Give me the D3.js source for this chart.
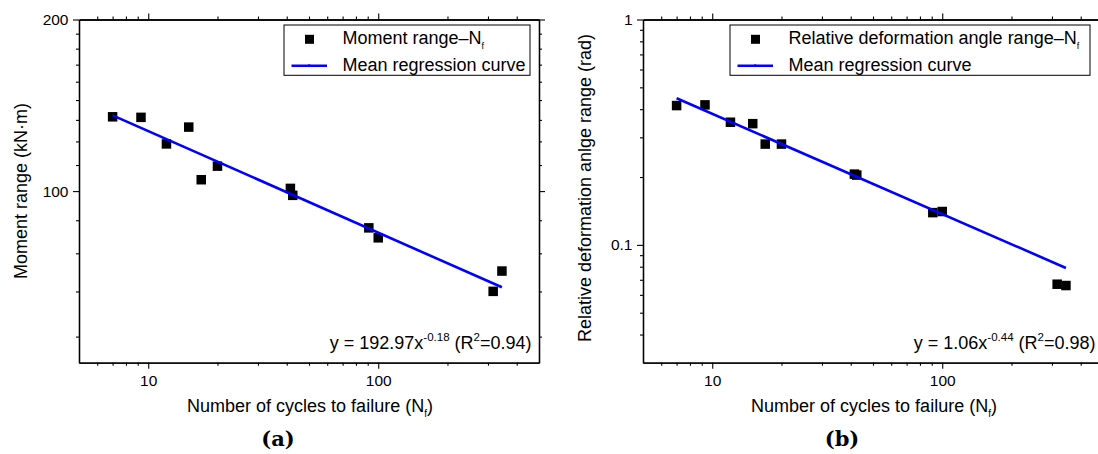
<!DOCTYPE html>
<html>
<head>
<meta charset="utf-8">
<script src="https://cdn.jsdelivr.net/npm/d3@7"></script>
<style>
  body { margin: 0; background: #fff; }
  text { font-family: Arial, "Liberation Sans", sans-serif; fill: #000; }
</style>
</head>
<body>
<svg id="chart" width="1098" height="454"></svg>
<script>
// data
const cycles = [7, 9.3, 12, 15, 17, 20, 41.5, 42.5, 91, 100, 316, 345];
const momentRange = [135, 134.7, 121, 129.5, 104.7, 110.6, 101.1, 98.3, 86.2, 82.8, 66.7, 72.4];
const angleRange = [0.415, 0.418, 0.350, 0.345, 0.280, 0.280, 0.206, 0.204, 0.139, 0.1406, 0.0669, 0.0660];

// mean regression curve end points
const fitCycles = [7, 345];
const momentFit = [135.8, 67.8];
const angleFit = [0.447, 0.079];

// axes
const xDomain = [5, 500];
const xMajor = [10, 100];
const xMinor = [6, 7, 8, 9, 20, 30, 40, 50, 60, 70, 80, 90, 200, 300, 400];
const momentDomain = [50, 200];
const momentMajor = [100, 200];
const momentMinor = [55.56, 66.67, 77.78, 88.89, 111.11, 122.22, 133.33, 144.44, 155.56, 166.67, 177.78, 188.89];
const angleDomain = [0.03, 1];
const angleMajor = [0.1, 1];
const angleMinor = [0.04, 0.05, 0.06, 0.07, 0.08, 0.09, 0.2, 0.3, 0.4, 0.5, 0.6, 0.7, 0.8, 0.9];

const svg = d3.select("#chart");
const plotW = 460, plotTop = 19.5, plotBottom = 362.7;

function styleAxis(sel) {
    sel.select(".domain").attr("stroke", "#000").attr("stroke-width", 1.3);
    sel.selectAll(".tick line").attr("stroke", "#000").attr("stroke-width", 1.1);
    sel.selectAll("text").style("font-size", "15.5px").attr("font-family", null);
}

function drawPanel(cfg) {
    const g = svg.append("g");
    const left = cfg.left, right = cfg.left + plotW;

    const x = d3.scaleLog().domain(xDomain).range([left, right]);
    const y = d3.scaleLog().domain(cfg.yDomain).range([plotBottom, plotTop]);

    // bottom axis
    g.append("g").attr("transform", `translate(0,${plotBottom})`)
        .call(d3.axisBottom(x).tickValues(xMinor).tickSize(3).tickSizeOuter(0).tickFormat(""))
        .call(styleAxis);
    g.append("g").attr("transform", `translate(0,${plotBottom})`)
        .call(d3.axisBottom(x).tickValues(xMajor).tickSize(6).tickPadding(6.5).tickSizeOuter(0).tickFormat(d3.format("d")))
        .call(styleAxis);
    // top mirror
    g.append("g").attr("transform", `translate(0,${plotTop})`)
        .call(d3.axisTop(x).tickValues(xMinor).tickSize(3).tickSizeOuter(0).tickFormat(""))
        .call(styleAxis);
    g.append("g").attr("transform", `translate(0,${plotTop})`)
        .call(d3.axisTop(x).tickValues(xMajor).tickSize(6).tickSizeOuter(0).tickFormat(""))
        .call(styleAxis);
    // left axis
    g.append("g").attr("transform", `translate(${left},0)`)
        .call(d3.axisLeft(y).tickValues(cfg.yMinor).tickSize(3).tickSizeOuter(0).tickFormat(""))
        .call(styleAxis);
    g.append("g").attr("transform", `translate(${left},0)`)
        .call(d3.axisLeft(y).tickValues(cfg.yMajor).tickSize(6).tickPadding(4.5).tickSizeOuter(0).tickFormat(d => String(d)))
        .call(styleAxis);
    // right mirror
    g.append("g").attr("transform", `translate(${right},0)`)
        .call(d3.axisRight(y).tickValues(cfg.yMinor).tickSize(3).tickSizeOuter(0).tickFormat(""))
        .call(styleAxis);
    g.append("g").attr("transform", `translate(${right},0)`)
        .call(d3.axisRight(y).tickValues(cfg.yMajor).tickSize(6).tickSizeOuter(0).tickFormat(""))
        .call(styleAxis);

    // points
    const sq = 9.5;
    g.selectAll(".pt")
        .data(cycles.map((c, i) => ({ c: c, v: cfg.values[i] })))
        .enter()
        .append("rect")
        .attr("class", "pt")
        .attr("x", d => x(d.c) - sq / 2)
        .attr("y", d => y(d.v) - sq / 2)
        .attr("width", sq)
        .attr("height", sq)
        .attr("fill", "#000");

    // regression line
    const line = d3.line().x(d => x(d[0])).y(d => y(d[1]));
    g.append("path")
        .datum(fitCycles.map((c, i) => [c, cfg.fit[i]]))
        .attr("d", line)
        .attr("fill", "none")
        .attr("stroke", "#0000ff")
        .attr("stroke-width", 2.6);

    // equation
    const eq = g.append("text")
        .attr("x", right - 7.5)
        .attr("y", 348.5)
        .attr("text-anchor", "end")
        .style("font-size", "18px");
    eq.append("tspan").text(cfg.eq[0]);
    eq.append("tspan").attr("dy", -7.5).style("font-size", "11.5px").text(cfg.eq[1]);
    eq.append("tspan").attr("dy", 7.5).text(" (R");
    eq.append("tspan").attr("dy", -7.5).style("font-size", "11.5px").text("2");
    eq.append("tspan").attr("dy", 7.5).text(cfg.eq[2]);

    // legend
    const lx = cfg.legendX;
    g.append("rect")
        .attr("x", lx).attr("y", 25)
        .attr("width", cfg.legendW).attr("height", 50.3)
        .attr("fill", "#fff").attr("stroke", "#000").attr("stroke-width", 1);
    g.append("rect")
        .attr("x", lx + 25.5 - 4.5).attr("y", 39.3 - 4.5)
        .attr("width", 9).attr("height", 9).attr("fill", "#000");
    g.append("line")
        .attr("x1", lx + 7.5).attr("x2", lx + 43)
        .attr("y1", 65.7).attr("y2", 65.7)
        .attr("stroke", "#0000ff").attr("stroke-width", 2.6);
    g.append("circle")
        .attr("cx", lx + 25.2).attr("cy", 65.7).attr("r", 1.4).attr("fill", "#0000ff");
    const l1 = g.append("text").attr("x", lx + 58.5).attr("y", 44.3).style("font-size", "18px");
    l1.append("tspan").text(cfg.legend);
    l1.append("tspan").attr("dy", 4.7).style("font-size", "9px").text("f");
    g.append("text").attr("x", lx + 58.5).attr("y", 70.7).style("font-size", "18px")
        .text("Mean regression curve");

    // axis titles
    const xt = g.append("text")
        .attr("x", (left + right) / 2 + 1)
        .attr("y", 411.5)
        .attr("text-anchor", "middle")
        .style("font-size", "18px");
    xt.append("tspan").text("Number of cycles to failure (N");
    xt.append("tspan").attr("dy", 5).style("font-size", "10px").text("f");
    xt.append("tspan").attr("dy", -5).text(")");

    g.append("text")
        .attr("transform", `translate(${left - 52.5},${cfg.yTitleY}) rotate(-90)`)
        .attr("text-anchor", "middle")
        .style("font-size", "18px")
        .text(cfg.yTitle);

    // caption
    const cap = g.append("text")
        .attr("x", left + 199)
        .attr("y", 446)
        .attr("text-anchor", "middle")
        .style("font-size", "21px")
        .style("font-family", "'DejaVu Serif', 'Liberation Serif', serif")
        .style("font-weight", "bold");
    cap.append("tspan").text("(");
    cap.append("tspan").text(cfg.caption);
    cap.append("tspan").text(")");
}

drawPanel({
    left: 79,
    yDomain: momentDomain,
    yMajor: momentMajor,
    yMinor: momentMinor,
    values: momentRange,
    fit: momentFit,
    eq: ["y = 192.97x", "-0.18", "=0.94)"],
    legend: "Moment range\u2013N",
    legendX: 284,
    legendW: 246,
    yTitle: "Moment range (kN\u00b7m)",
    yTitleY: 191,
    caption: "a"
});

drawPanel({
    left: 643,
    yDomain: angleDomain,
    yMajor: angleMajor,
    yMinor: angleMinor,
    values: angleRange,
    fit: angleFit,
    eq: ["y = 1.06x", "-0.44", "=0.98)"],
    legend: "Relative deformation angle range\u2013N",
    legendX: 730,
    legendW: 360,
    yTitle: "Relative deformation anlge range (rad)",
    yTitleY: 188,
    caption: "b"
});
</script>
</body>
</html>
